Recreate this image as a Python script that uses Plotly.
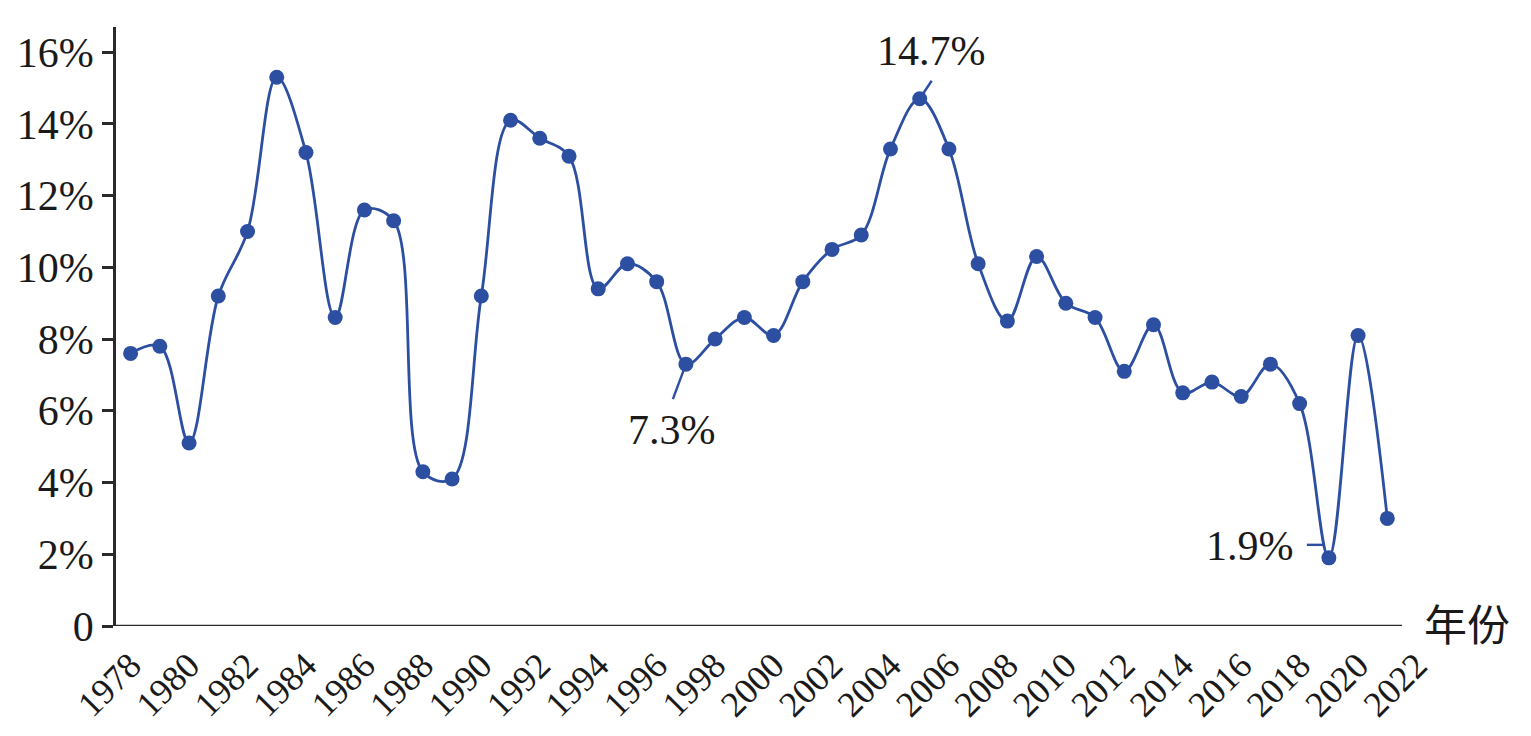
import plotly.graph_objects as go

years = list(range(1978, 2022))
values = [7.6, 7.8, 5.1, 9.2, 11.0, 15.3, 13.2, 8.6, 11.6, 11.3,
          4.3, 4.1, 9.2, 14.1, 13.6, 13.1, 9.4, 10.1, 9.6, 7.3,
          8.0, 8.6, 8.1, 9.6, 10.5, 10.9, 13.3, 14.7, 13.3, 10.1,
          8.5, 10.3, 9.0, 8.6, 7.1, 8.4, 6.5, 6.8, 6.4, 7.3,
          6.2, 1.9, 8.1, 3.0]
x_tick_vals = list(range(1978, 2023, 2))
x_tick_text = [str(v) for v in x_tick_vals]
y_tick_vals = [0, 2, 4, 6, 8, 10, 12, 14, 16]
y_tick_text = ["0"] + [f"{v}%" for v in y_tick_vals[1:]]

# labelled points: (year, value, label x/y shift, leader-line pixel offsets)
callouts = [
    (2005, 14.7, 12, 48, (0, 0, 12, 18)),
    (1997, 7.3, -14, -66, (0, 0, -13, -35)),
    (2019, 1.9, -79, 12, (-22, 13, -4, 13)),
]

BLUE = "#2d4fa1"
AX = "#2a2a2a"
SERIF = "Liberation Serif"

fig = go.Figure()
fig.add_trace(go.Scatter(
    x=years, y=values, mode="lines+markers",
    line=dict(color=BLUE, width=2.8, shape="spline", smoothing=1.0),
    marker=dict(color=BLUE, size=15),
    hoverinfo="x+y", cliponaxis=False,
))

shapes = [dict(type="line", xref="x", yref="y", x0=1977.5, x1=2021.5, y0=0, y1=0,
               line=dict(color=AX, width=2.5), layer="above")]
annotations = []
for yr, val, xs, ys, (lx0, ly0, lx1, ly1) in callouts:
    annotations.append(dict(x=yr, y=val, xref="x", yref="y", text=f"{val}%",
                            showarrow=False, xshift=xs, yshift=ys,
                            font=dict(family=SERIF, size=42, color="#1a1a1a")))
    shapes.append(dict(type="line", xref="x", yref="y", xsizemode="pixel", ysizemode="pixel",
                       xanchor=yr, yanchor=val, x0=lx0, y0=ly0, x1=lx1, y1=ly1,
                       line=dict(color=BLUE, width=2.4), layer="below"))

annotations.append(dict(x=2021.5, y=0, xref="x", yref="y", text="年份", showarrow=False,
                        xanchor="left", yanchor="middle", xshift=20, yshift=4,
                        font=dict(family="Noto Sans CJK SC", size=43, color="#1a1a1a")))

fig.update_layout(
    width=1531, height=736,
    margin=dict(l=116, r=1531 - 116 - round(44.55 * 29.23), t=27, b=107),
    paper_bgcolor="white", plot_bgcolor="white",
    showlegend=False,
    shapes=shapes, annotations=annotations,
    xaxis=dict(range=[1977.5, 2022.05], tickmode="array", tickvals=x_tick_vals,
               ticktext=x_tick_text, tickangle=-45, showgrid=False, zeroline=False,
               showline=False, ticks="", ticklabelstandoff=10,
               tickfont=dict(family=SERIF, size=36, color="#1a1a1a")),
    yaxis=dict(range=[0, 16.7], tickmode="array", tickvals=y_tick_vals,
               ticktext=y_tick_text, showgrid=False, zeroline=False,
               showline=True, linecolor=AX, linewidth=2.5,
               ticks="outside", ticklen=11, tickwidth=2.5, tickcolor=AX,
               tickfont=dict(family=SERIF, size=42, color="#1a1a1a")),
)

fig.write_html("out.html")
